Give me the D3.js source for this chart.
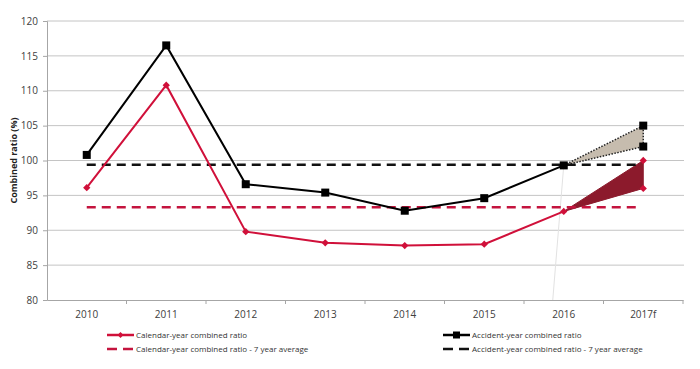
<!DOCTYPE html>
<html>
<head>
<meta charset="utf-8">
<script src="https://cdn.jsdelivr.net/npm/d3@7"></script>
<style>
  body { margin: 0; background: #fff; }
  text { font-family: "Open Sans", "Liberation Sans", sans-serif; }
</style>
</head>
<body>
<script>
// Data
const years = ["2010", "2011", "2012", "2013", "2014", "2015", "2016", "2017f"];
const calendarYear = [96.1, 110.8, 89.8, 88.2, 87.8, 88.0, 92.7];
const accidentYear = [100.8, 116.5, 96.6, 95.4, 92.8, 94.6, 99.3];
const calendarForecast = [96, 100];   // 2017f low / high
const accidentForecast = [102, 105];  // 2017f low / high
const calendarAvg = 93.3;
const accidentAvg = 99.4;
const yTicks = [80, 85, 90, 95, 100, 105, 110, 115, 120];

const red = "#d0103a";
const darkRed = "#8c1a2c";

// Set up the SVG container dimensions
const margin = { top: 21, right: 17, bottom: 69, left: 47 };
const width = 700 - margin.left - margin.right;
const height = 369 - margin.top - margin.bottom;

const svg = d3.select("body")
  .append("svg")
  .attr("width", 700)
  .attr("height", 369);

const g = svg.append("g")
  .attr("transform", `translate(${margin.left},${margin.top})`);

const x = d3.scaleBand()
  .domain(years)
  .range([0, width]);

const y = d3.scaleLinear()
  .domain([80, 120])
  .range([height, 0]);

const cx = d => x(d) + x.bandwidth() / 2;

// Gridlines
g.selectAll(".grid")
  .data(yTicks.slice(1))
  .enter().append("line")
  .attr("x1", 0)
  .attr("x2", width + 1)
  .attr("y1", d => y(d))
  .attr("y2", d => y(d))
  .attr("stroke", "#c4c4c4")
  .attr("stroke-width", 1);

// Y-axis
const yAxis = g.append("g")
  .call(d3.axisLeft(y).tickValues(yTicks).tickSize(4).tickPadding(5));
yAxis.select(".domain").attr("stroke", "#a6a6a6");
yAxis.selectAll(".tick line").attr("stroke", "#a6a6a6");
yAxis.selectAll(".tick text").attr("font-size", 10).attr("fill", "#404040");

// X-axis with ticks between categories
const xAxis = g.append("g")
  .attr("transform", `translate(0,${height})`)
  .call(d3.axisBottom(x).tickSize(0).tickPadding(11));
xAxis.select(".domain").attr("stroke", "#a6a6a6");
xAxis.selectAll(".tick text").attr("font-size", 10).attr("fill", "#404040");
g.selectAll(".xtick")
  .data(years)
  .enter().append("line")
  .attr("x1", (d, i) => x.step() * (i + 1))
  .attr("x2", (d, i) => x.step() * (i + 1))
  .attr("y1", height)
  .attr("y2", height + 4)
  .attr("stroke", "#a6a6a6");

// Y-axis title
svg.append("text")
  .attr("transform", `translate(17,${margin.top + y(100)}) rotate(-90)`)
  .attr("text-anchor", "middle")
  .attr("font-size", 9)
  .attr("font-weight", "bold")
  .attr("fill", "#222")
  .text("Combined ratio (%)");

// Faint leader line below the 2016 point
g.append("line")
  .attr("x1", cx("2016"))
  .attr("y1", y(accidentYear[6]))
  .attr("x2", cx("2016") - 11)
  .attr("y2", y(80))
  .attr("stroke", "#e2e2e2")
  .attr("stroke-width", 1);

// Forecast fans
const fan = (last, range) => [
  [cx("2016"), y(last)],
  [cx("2017f"), y(range[1])],
  [cx("2017f"), y(range[0])]
];

g.append("path")
  .attr("d", d3.line()(fan(accidentYear[6], accidentForecast)) + "Z")
  .attr("fill", "#c6bcae")
  .attr("stroke", "#222")
  .attr("stroke-width", 1.5)
  .attr("stroke-dasharray", "1.5,1.5");

g.append("path")
  .attr("d", d3.line()(fan(calendarYear[6], calendarForecast)) + "Z")
  .attr("fill", darkRed)
  .attr("stroke", darkRed)
  .attr("stroke-width", 1);

// 7-year averages
g.append("line")
  .attr("x1", cx("2010"))
  .attr("x2", cx("2017f") - 5)
  .attr("y1", y(accidentAvg))
  .attr("y2", y(accidentAvg))
  .attr("stroke", "#111")
  .attr("stroke-width", 2.5)
  .attr("stroke-dasharray", "9,6");

g.append("line")
  .attr("x1", cx("2010"))
  .attr("x2", cx("2017f") - 5)
  .attr("y1", y(calendarAvg))
  .attr("y2", y(calendarAvg))
  .attr("stroke", "#c4143e")
  .attr("stroke-width", 2.5)
  .attr("stroke-dasharray", "9,6");

// Main lines
const line = d3.line()
  .x((d, i) => cx(years[i]))
  .y(d => y(d));

g.append("path")
  .attr("d", line(accidentYear))
  .attr("fill", "none")
  .attr("stroke", "#000")
  .attr("stroke-width", 2);

g.append("path")
  .attr("d", line(calendarYear))
  .attr("fill", "none")
  .attr("stroke", red)
  .attr("stroke-width", 2);

// Markers
const accPts = accidentYear.map((v, i) => [years[i], v])
  .concat(accidentForecast.map(v => ["2017f", v]));
const calPts = calendarYear.map((v, i) => [years[i], v])
  .concat(calendarForecast.map(v => ["2017f", v]));

g.selectAll(".sq")
  .data(accPts)
  .enter().append("rect")
  .attr("x", d => cx(d[0]) - 4)
  .attr("y", d => y(d[1]) - 4)
  .attr("width", 8)
  .attr("height", 8)
  .attr("fill", "#000");

const diamond = d3.symbol().type(d3.symbolDiamond2).size(34);
g.selectAll(".dm")
  .data(calPts)
  .enter().append("path")
  .attr("d", diamond)
  .attr("transform", d => `translate(${cx(d[0])},${y(d[1])})`)
  .attr("fill", red);

// Legend
const legend = [
  { label: "Calendar-year combined ratio", color: red, dash: null, marker: "diamond", x: 107, y: 335 },
  { label: "Calendar-year combined ratio - 7 year average", color: "#c4143e", dash: "10,6", marker: null, x: 107, y: 349 },
  { label: "Accident-year combined ratio", color: "#000", dash: null, marker: "square", x: 443, y: 335 },
  { label: "Accident-year combined ratio - 7 year average", color: "#111", dash: "10,6", marker: null, x: 443, y: 349 }
];

const lg = svg.selectAll(".legend")
  .data(legend)
  .enter().append("g")
  .attr("transform", d => `translate(${d.x},${d.y})`);

lg.append("line")
  .attr("x1", 0)
  .attr("x2", 27)
  .attr("stroke", d => d.color)
  .attr("stroke-width", 2.5)
  .attr("stroke-dasharray", d => d.dash);

lg.filter(d => d.marker === "square").append("rect")
  .attr("x", 10)
  .attr("y", -3.5)
  .attr("width", 7)
  .attr("height", 7)
  .attr("fill", "#000");

lg.filter(d => d.marker === "diamond").append("path")
  .attr("d", d3.symbol().type(d3.symbolDiamond2).size(22))
  .attr("transform", "translate(13.5,0)")
  .attr("fill", red);

lg.append("text")
  .attr("x", 29)
  .attr("dy", "0.35em")
  .attr("font-size", 8)
  .attr("fill", "#333")
  .text(d => d.label);
</script>
</body>
</html>
